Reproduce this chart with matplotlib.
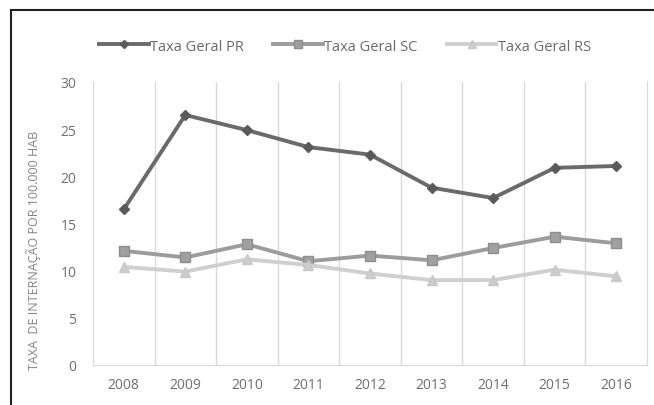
import numpy as np
import matplotlib.pyplot as plt
from matplotlib.lines import Line2D

plt.rcParams['font.family'] = ['Open Sans', 'DejaVu Sans']

anos = ['2008', '2009', '2010', '2011', '2012', '2013', '2014', '2015', '2016']
taxa_pr = [16.5, 26.5, 24.9, 23.1, 22.3, 18.8, 17.7, 20.9, 21.1]
taxa_sc = [12.1, 11.4, 12.8, 11.0, 11.6, 11.1, 12.4, 13.6, 12.9]
taxa_rs = [10.4, 9.9, 11.2, 10.6, 9.7, 9.0, 9.0, 10.1, 9.4]

fig = plt.figure(figsize=(6.54, 4.06), dpi=100)
ax = fig.add_axes([93/654, 1 - 366/406, (647-93)/654, (366-83)/406])

x = np.arange(len(anos))
ax.plot(x, taxa_pr, color='#6a6a6a', lw=2.8, marker='D', ms=5.5,
        markeredgecolor='#5a5a5a', markerfacecolor='#5a5a5a', label='Taxa Geral PR')
ax.plot(x, taxa_sc, color='#9c9c9c', lw=2.8, marker='s', ms=7,
        markeredgecolor='#8e8e8e', markerfacecolor='#a0a0a0', label='Taxa Geral SC')
ax.plot(x, taxa_rs, color='#cfcfcf', lw=2.8, marker='^', ms=7,
        markeredgecolor='#c8c8c8', markerfacecolor='#cccccc', label='Taxa Geral RS')

ax.set_xlim(-0.5, len(anos) - 0.5)
ax.set_ylim(0, 30)
ax.set_yticks(np.arange(0, 31, 5))
ax.set_xticks(x)
ax.set_xticklabels(anos)
ax.set_xticks(np.arange(0.5, len(anos) - 0.5, 1), minor=True)
ax.grid(True, which='minor', axis='x', color='#d9d9d9', lw=1)
ax.tick_params(which='both', length=0)
ax.tick_params(axis='x', labelsize=10, labelcolor='#6f6f6f', pad=9)
ax.tick_params(axis='y', labelsize=10, labelcolor='#6f6f6f', pad=12)

ax.spines['top'].set_visible(False)
for s in ['left', 'bottom', 'right']:
    ax.spines[s].set_color('#d9d9d9')

ax.set_ylabel('TAXA  DE INTERNAÇÃO POR 100.000 HAB', fontsize=9, color='#858585')
ax.yaxis.set_label_coords(-0.094, 0.41)

ax.legend(loc='upper center', bbox_to_anchor=(0.455, 1.2), ncol=3, frameon=False,
          fontsize=10.5, labelcolor='#6a6a6a', handlelength=3.4, handletextpad=0.1,
          columnspacing=2.0, markerscale=0.8)

# moldura da figura
fig.add_artist(Line2D([11/654, 11/654], [0, 1 - 11/406], color='#222222', lw=1.5))
fig.add_artist(Line2D([11/654, 1], [1 - 11/406, 1 - 11/406], color='#222222', lw=1.5))

fig.savefig('out.png', dpi=100)
